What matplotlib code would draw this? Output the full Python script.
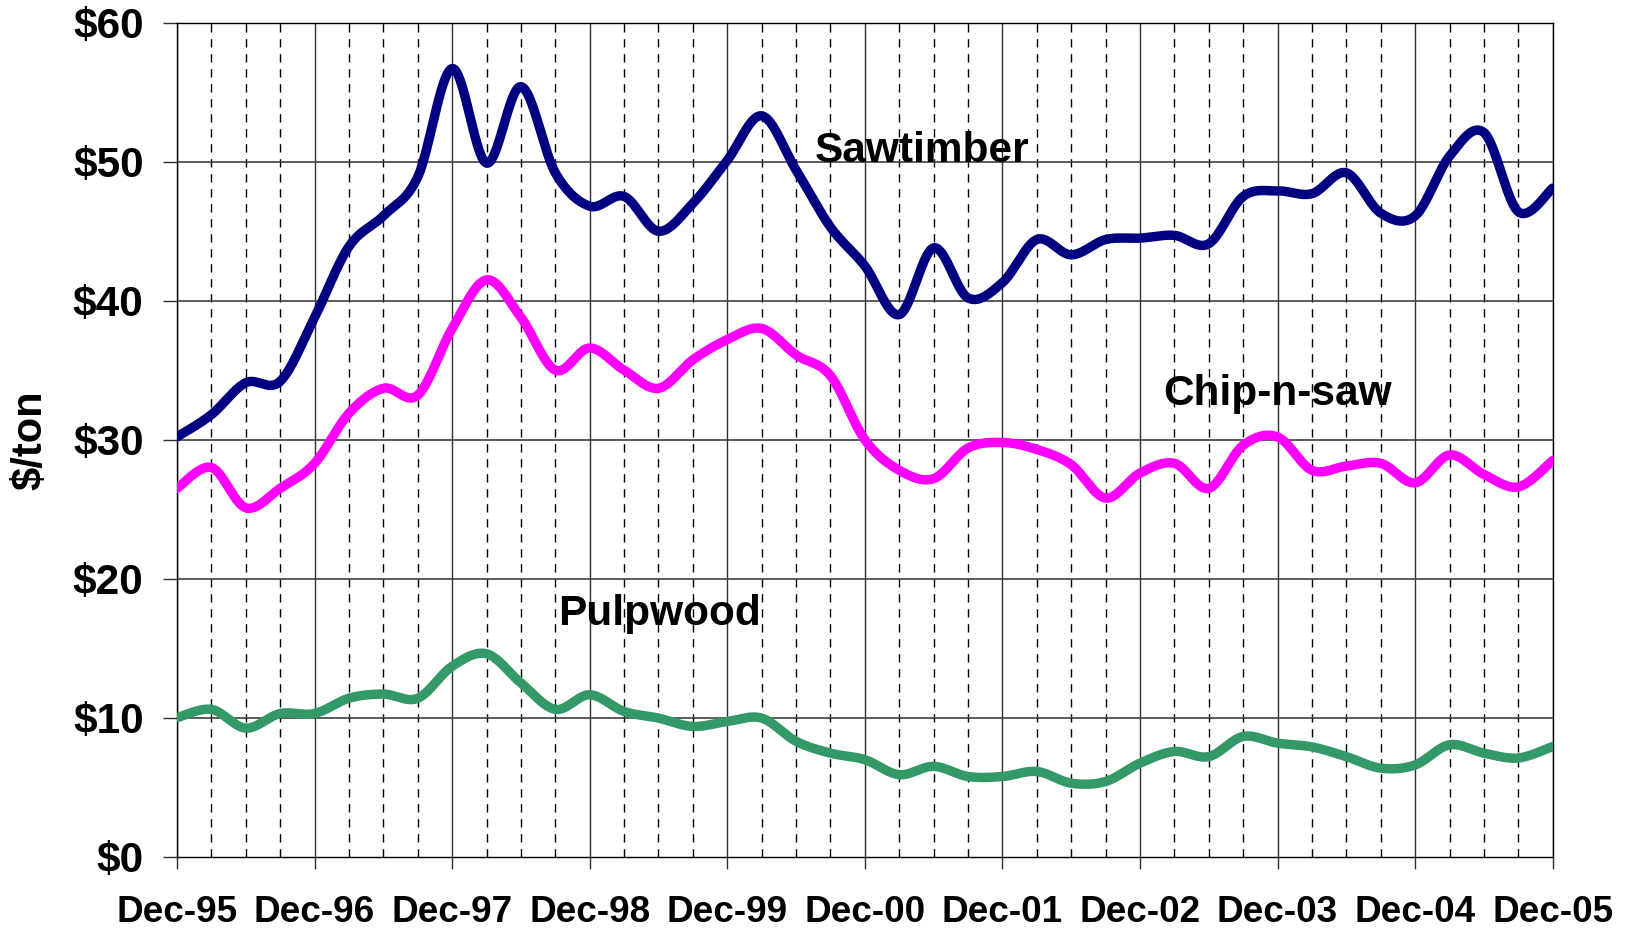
import numpy as np
import matplotlib
matplotlib.use("Agg")
import matplotlib.pyplot as plt
from matplotlib.ticker import FixedLocator, FuncFormatter

plt.rcParams['font.family'] = ['Liberation Sans', 'DejaVu Sans']
plt.rcParams['font.weight'] = 'bold'
plt.rcParams['lines.scale_dashes'] = False

# ---- data (quarterly, Dec-95 .. Dec-05) ----
year_labels = ["Dec-95", "Dec-96", "Dec-97", "Dec-98", "Dec-99", "Dec-00",
               "Dec-01", "Dec-02", "Dec-03", "Dec-04", "Dec-05"]
sawtimber = [30.2, 31.8, 34.1, 34.2, 38.8, 43.9, 46.1, 48.9, 56.7, 49.9,
             55.4, 49.2, 46.8, 47.5, 45.0, 47.0, 50.1, 53.3, 49.4, 45.3,
             42.5, 39.0, 43.8, 40.2, 41.3, 44.4, 43.3, 44.4, 44.5, 44.7,
             44.1, 47.5, 47.9, 47.7, 49.2, 46.3, 46.1, 50.4, 52.1, 46.4, 48.1]
chip_n_saw = [26.5, 28.0, 25.1, 26.5, 28.3, 31.9, 33.7, 33.2, 38.0, 41.5,
              38.8, 35.0, 36.6, 35.0, 33.7, 35.75, 37.2, 38.0, 36.1, 34.6,
              30.0, 27.8, 27.2, 29.4, 29.8, 29.3, 28.2, 25.8, 27.6, 28.3,
              26.5, 29.6, 30.2, 27.8, 28.1, 28.3, 26.9, 28.9, 27.5, 26.6, 28.5]
pulpwood = [10.0, 10.6, 9.25, 10.3, 10.3, 11.4, 11.7, 11.4, 13.7, 14.6,
            12.5, 10.6, 11.65, 10.45, 9.97, 9.37, 9.73, 9.97, 8.3, 7.45,
            6.98, 5.9, 6.5, 5.77, 5.77, 6.13, 5.29, 5.41, 6.73, 7.57,
            7.2, 8.65, 8.17, 7.9, 7.2, 6.37, 6.6, 8.05, 7.45, 7.1, 7.93]
series_names = ["Sawtimber", "Chip-n-saw", "Pulpwood"]
y_ticks = [0, 10, 20, 30, 40, 50, 60]


def smooth(vals, n=40):
    """Excel-style smoothed line (Catmull-Rom Bezier through the points)."""
    y = np.asarray(vals, float)
    x = np.arange(len(y), dtype=float)
    P = np.column_stack([x, y])
    Pe = np.vstack([P[0], P, P[-1]])
    t = np.linspace(0, 1, n, endpoint=False)[:, None]
    out = []
    for i in range(len(P) - 1):
        p0, p3 = P[i], P[i + 1]
        c1 = p0 + (Pe[i + 2] - Pe[i]) / 6.0
        c2 = p3 - (Pe[i + 3] - Pe[i + 1]) / 6.0
        out.append((1 - t) ** 3 * p0 + 3 * (1 - t) ** 2 * t * c1
                   + 3 * (1 - t) * t ** 2 * c2 + t ** 3 * p3)
    out.append(P[-1:])
    return np.vstack(out)


fig = plt.figure(figsize=(16.31, 9.30), dpi=100)
ax = fig.add_axes([0.10852, 0.07882, 0.84347, 0.89677])

n = len(sawtimber)
ax.set_xlim(0, n - 1)
ax.set_ylim(0, 60)

# grid
for q in range(n):
    if q % 4 == 0:
        ax.axvline(q, color='#303030', lw=1.0, zorder=1)
    else:
        ax.axvline(q, color='black', lw=1.0, ls=(0, (6, 4.8)), zorder=1)
for v in y_ticks[1:]:
    ax.axhline(v, color='#404040', lw=1.2, zorder=1)

colors = ['#000080', '#FF00FF', '#339966']
for vals, c in zip([sawtimber, chip_n_saw, pulpwood], colors):
    s = smooth(vals)
    ax.plot(s[:, 0], s[:, 1], color=c, lw=6.8, solid_capstyle='round',
            solid_joinstyle='round', zorder=3)

# ticks
ax.xaxis.set_major_locator(FixedLocator(list(range(0, n, 4))))
ax.set_xticklabels(year_labels)
ax.yaxis.set_major_locator(FixedLocator(y_ticks))
ax.yaxis.set_major_formatter(FuncFormatter(lambda v, p: f"${int(v)}"))
ax.tick_params(axis='x', direction='out', length=8.6, width=1, pad=19,
               labelsize=26.6, color='#303030')
ax.tick_params(axis='y', direction='out', length=10, width=1, pad=14,
               labelsize=30.5, color='#303030')
for lab in ax.get_xticklabels() + ax.get_yticklabels():
    lab.set_fontweight('bold')

for sp in ax.spines.values():
    sp.set_color('black')
    sp.set_linewidth(1.0)

fig.text(30 / 1631, 1 - 440 / 930, "$/ton", rotation=90, ha='center',
         va='center', fontsize=30, fontweight='bold')

# series labels
ax.text(21.66, 50.0, series_names[0], ha='center', va='baseline',
        fontsize=30.5, fontweight='bold', zorder=4)
ax.text(31.99, 32.5, series_names[1], ha='center', va='baseline',
        fontsize=30.5, fontweight='bold', zorder=4)
ax.text(14.03, 16.67, series_names[2], ha='center', va='baseline',
        fontsize=30.5, fontweight='bold', zorder=4)

fig.savefig("out.png", dpi=100, facecolor='white')
